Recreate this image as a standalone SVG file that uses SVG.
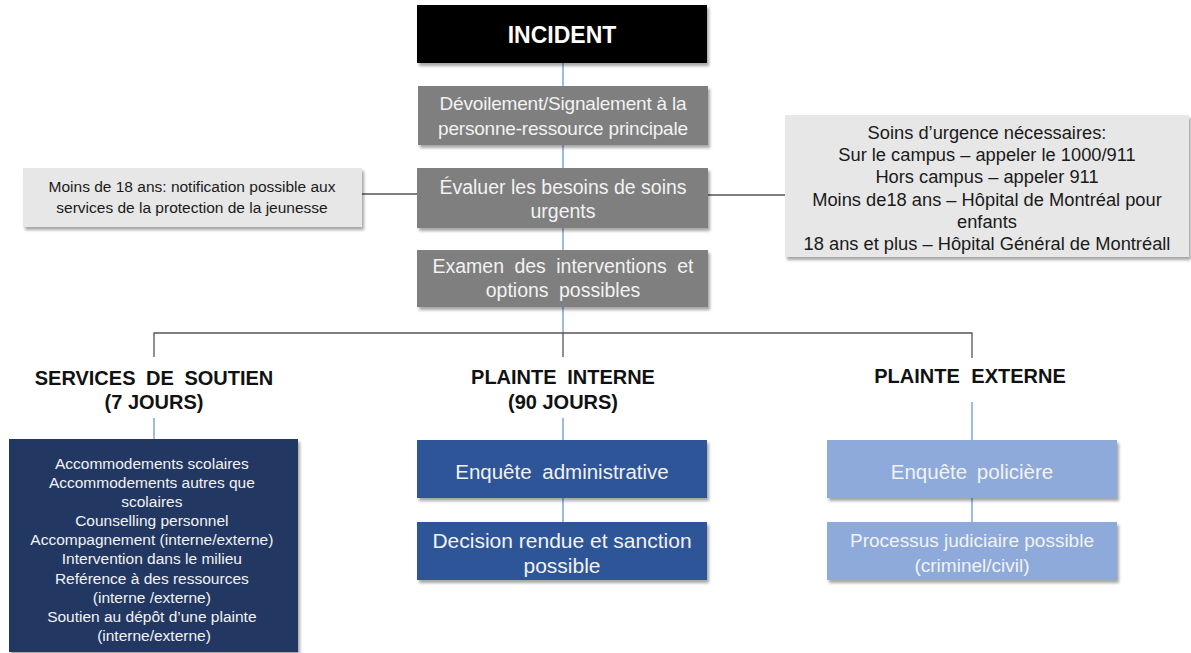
<svg xmlns="http://www.w3.org/2000/svg" width="1191" height="653" viewBox="0 0 1191 653">
<style>
text{font-family:"Liberation Sans",Arial,sans-serif;text-anchor:middle;dominant-baseline:central}
.gray{fill:#7f7f7f}
.light{fill:#e7e7e7}
.navy{fill:#203864}
.blue{fill:#2f5597}
.sky{fill:#8eaadb}
.wt{fill:#f2f2f2}
.bk{fill:#1a1a1a}
.hd{font-weight:bold;font-size:20px;fill:#111}
.cb{stroke:#5b8fd0;stroke-width:1.2;fill:none}
.cg{stroke:#555;stroke-width:1.3;fill:none}
</style>
<defs>
<filter id="sh" x="-5%" y="-10%" width="115%" height="130%">
<feDropShadow dx="2" dy="3" stdDeviation="1.5" flood-color="#000" flood-opacity="0.35"/>
</filter>
</defs>
<rect width="1191" height="653" fill="#fff"/>
<g id="connectors">
<line class="cb" x1="563" y1="63" x2="563" y2="86"/>
<line class="cb" x1="563" y1="145" x2="563" y2="168"/>
<line class="cb" x1="563" y1="228" x2="563" y2="250"/>
<line class="cb" x1="563" y1="307" x2="563" y2="333"/>
<line class="cg" x1="362" y1="194" x2="417" y2="194"/>
<line class="cg" x1="708" y1="195" x2="785" y2="195"/>
<polyline class="cg" points="154,357 154,333 972,333 972,358"/>
<line class="cg" x1="563" y1="333" x2="563" y2="357"/>
<line class="cb" x1="154" y1="418" x2="154" y2="439"/>
<line class="cb" x1="563" y1="418" x2="563" y2="440"/>
<line class="cb" x1="563" y1="498" x2="563" y2="522"/>
<line class="cb" x1="972" y1="402" x2="972" y2="440"/>
<line class="cb" x1="972" y1="498" x2="972" y2="522"/>
</g>
<g id="incident">
<rect x="417" y="5" width="290" height="58" fill="#000" filter="url(#sh)"/>
<text x="562" y="35" font-size="23" font-weight="bold" fill="#fff">INCIDENT</text>
</g>
<g id="devoilement">
<rect class="gray" x="418" y="86" width="290" height="59" filter="url(#sh)"/>
<text class="wt" font-size="19" letter-spacing="-0.2"><tspan x="563" y="103">Dévoilement/Signalement à la</tspan><tspan x="563" y="128">personne-ressource principale</tspan></text>
</g>
<g id="evaluer">
<rect class="gray" x="417" y="168" width="291" height="60" filter="url(#sh)"/>
<text class="wt" font-size="19.5"><tspan x="563" y="187">Évaluer les besoins de soins</tspan><tspan x="563" y="211">urgents</tspan></text>
</g>
<g id="examen">
<rect class="gray" x="417" y="250" width="291" height="57" filter="url(#sh)"/>
<text class="wt" font-size="19.5" word-spacing="5"><tspan x="563" y="266">Examen des interventions et</tspan><tspan x="563" y="290">options possibles</tspan></text>
</g>
<g id="moins18">
<rect class="light" x="23" y="168" width="339" height="59" filter="url(#sh)"/>
<text class="bk" font-size="15.5" fill="#333"><tspan x="192" y="186">Moins de 18 ans: notification possible aux</tspan><tspan x="192" y="207">services de la protection de la jeunesse</tspan></text>
</g>
<g id="soins">
<rect class="light" x="785" y="115" width="404" height="142" filter="url(#sh)"/>
<text class="bk" font-size="18.3"><tspan x="987" y="132">Soins d’urgence nécessaires:</tspan><tspan x="987" y="154">Sur le campus – appeler le 1000/911</tspan><tspan x="987" y="176">Hors campus – appeler 911</tspan><tspan x="987" y="199">Moins de18 ans – Hôpital de Montréal pour</tspan><tspan x="987" y="221">enfants</tspan><tspan x="987" y="243">18 ans et plus – Hôpital  Général de Montréall</tspan></text>
</g>
<g id="services-heading">
<text class="hd" word-spacing="5"><tspan x="154" y="378">SERVICES DE SOUTIEN</tspan><tspan x="154" y="402" word-spacing="0">(7 JOURS)</tspan></text>
</g>
<g id="interne-heading">
<text class="hd" word-spacing="5"><tspan x="563" y="377">PLAINTE INTERNE</tspan><tspan x="563" y="402" word-spacing="0">(90 JOURS)</tspan></text>
</g>
<g id="externe-heading">
<text class="hd" word-spacing="6"><tspan x="970" y="376">PLAINTE EXTERNE</tspan></text>
</g>
<g id="services">
<rect class="navy" x="9" y="439" width="289" height="213" filter="url(#sh)"/>
<text class="wt" font-size="15.5" fill="#e8e8e8">
<tspan x="154" y="463">Accommodements scolaires</tspan>
<tspan x="154" y="482">Accommodements autres que</tspan>
<tspan x="154" y="501">scolaires</tspan>
<tspan x="154" y="520">Counselling personnel</tspan>
<tspan x="154" y="539">Accompagnement (interne/externe)</tspan>
<tspan x="154" y="558">Intervention  dans le milieu</tspan>
<tspan x="154" y="578">Reférence à des ressources</tspan>
<tspan x="154" y="597">(interne /externe)</tspan>
<tspan x="154" y="616">Soutien au dépôt d’une plainte</tspan>
<tspan x="154" y="635">(interne/externe)</tspan>
</text>
</g>
<g id="enquete-admin">
<rect class="blue" x="417" y="440" width="290" height="58" filter="url(#sh)"/>
<text class="wt" font-size="20.5" x="562" y="471" word-spacing="5">Enquête administrative</text>
</g>
<g id="decision">
<rect class="blue" x="417" y="522" width="290" height="58" filter="url(#sh)"/>
<text class="wt" font-size="21" word-spacing="0"><tspan x="562" y="540">Decision rendue  et sanction</tspan><tspan x="562" y="565">possible</tspan></text>
</g>
<g id="enquete-police">
<rect class="sky" x="827" y="440" width="290" height="58" filter="url(#sh)"/>
<text class="wt" font-size="20.5" x="972" y="471" word-spacing="4">Enquête policière</text>
</g>
<g id="processus">
<rect class="sky" x="827" y="522" width="290" height="58" filter="url(#sh)"/>
<text class="wt" font-size="19"><tspan x="972" y="540">Processus judiciaire possible</tspan><tspan x="972" y="565">(criminel/civil)</tspan></text>
</g>
</svg>
